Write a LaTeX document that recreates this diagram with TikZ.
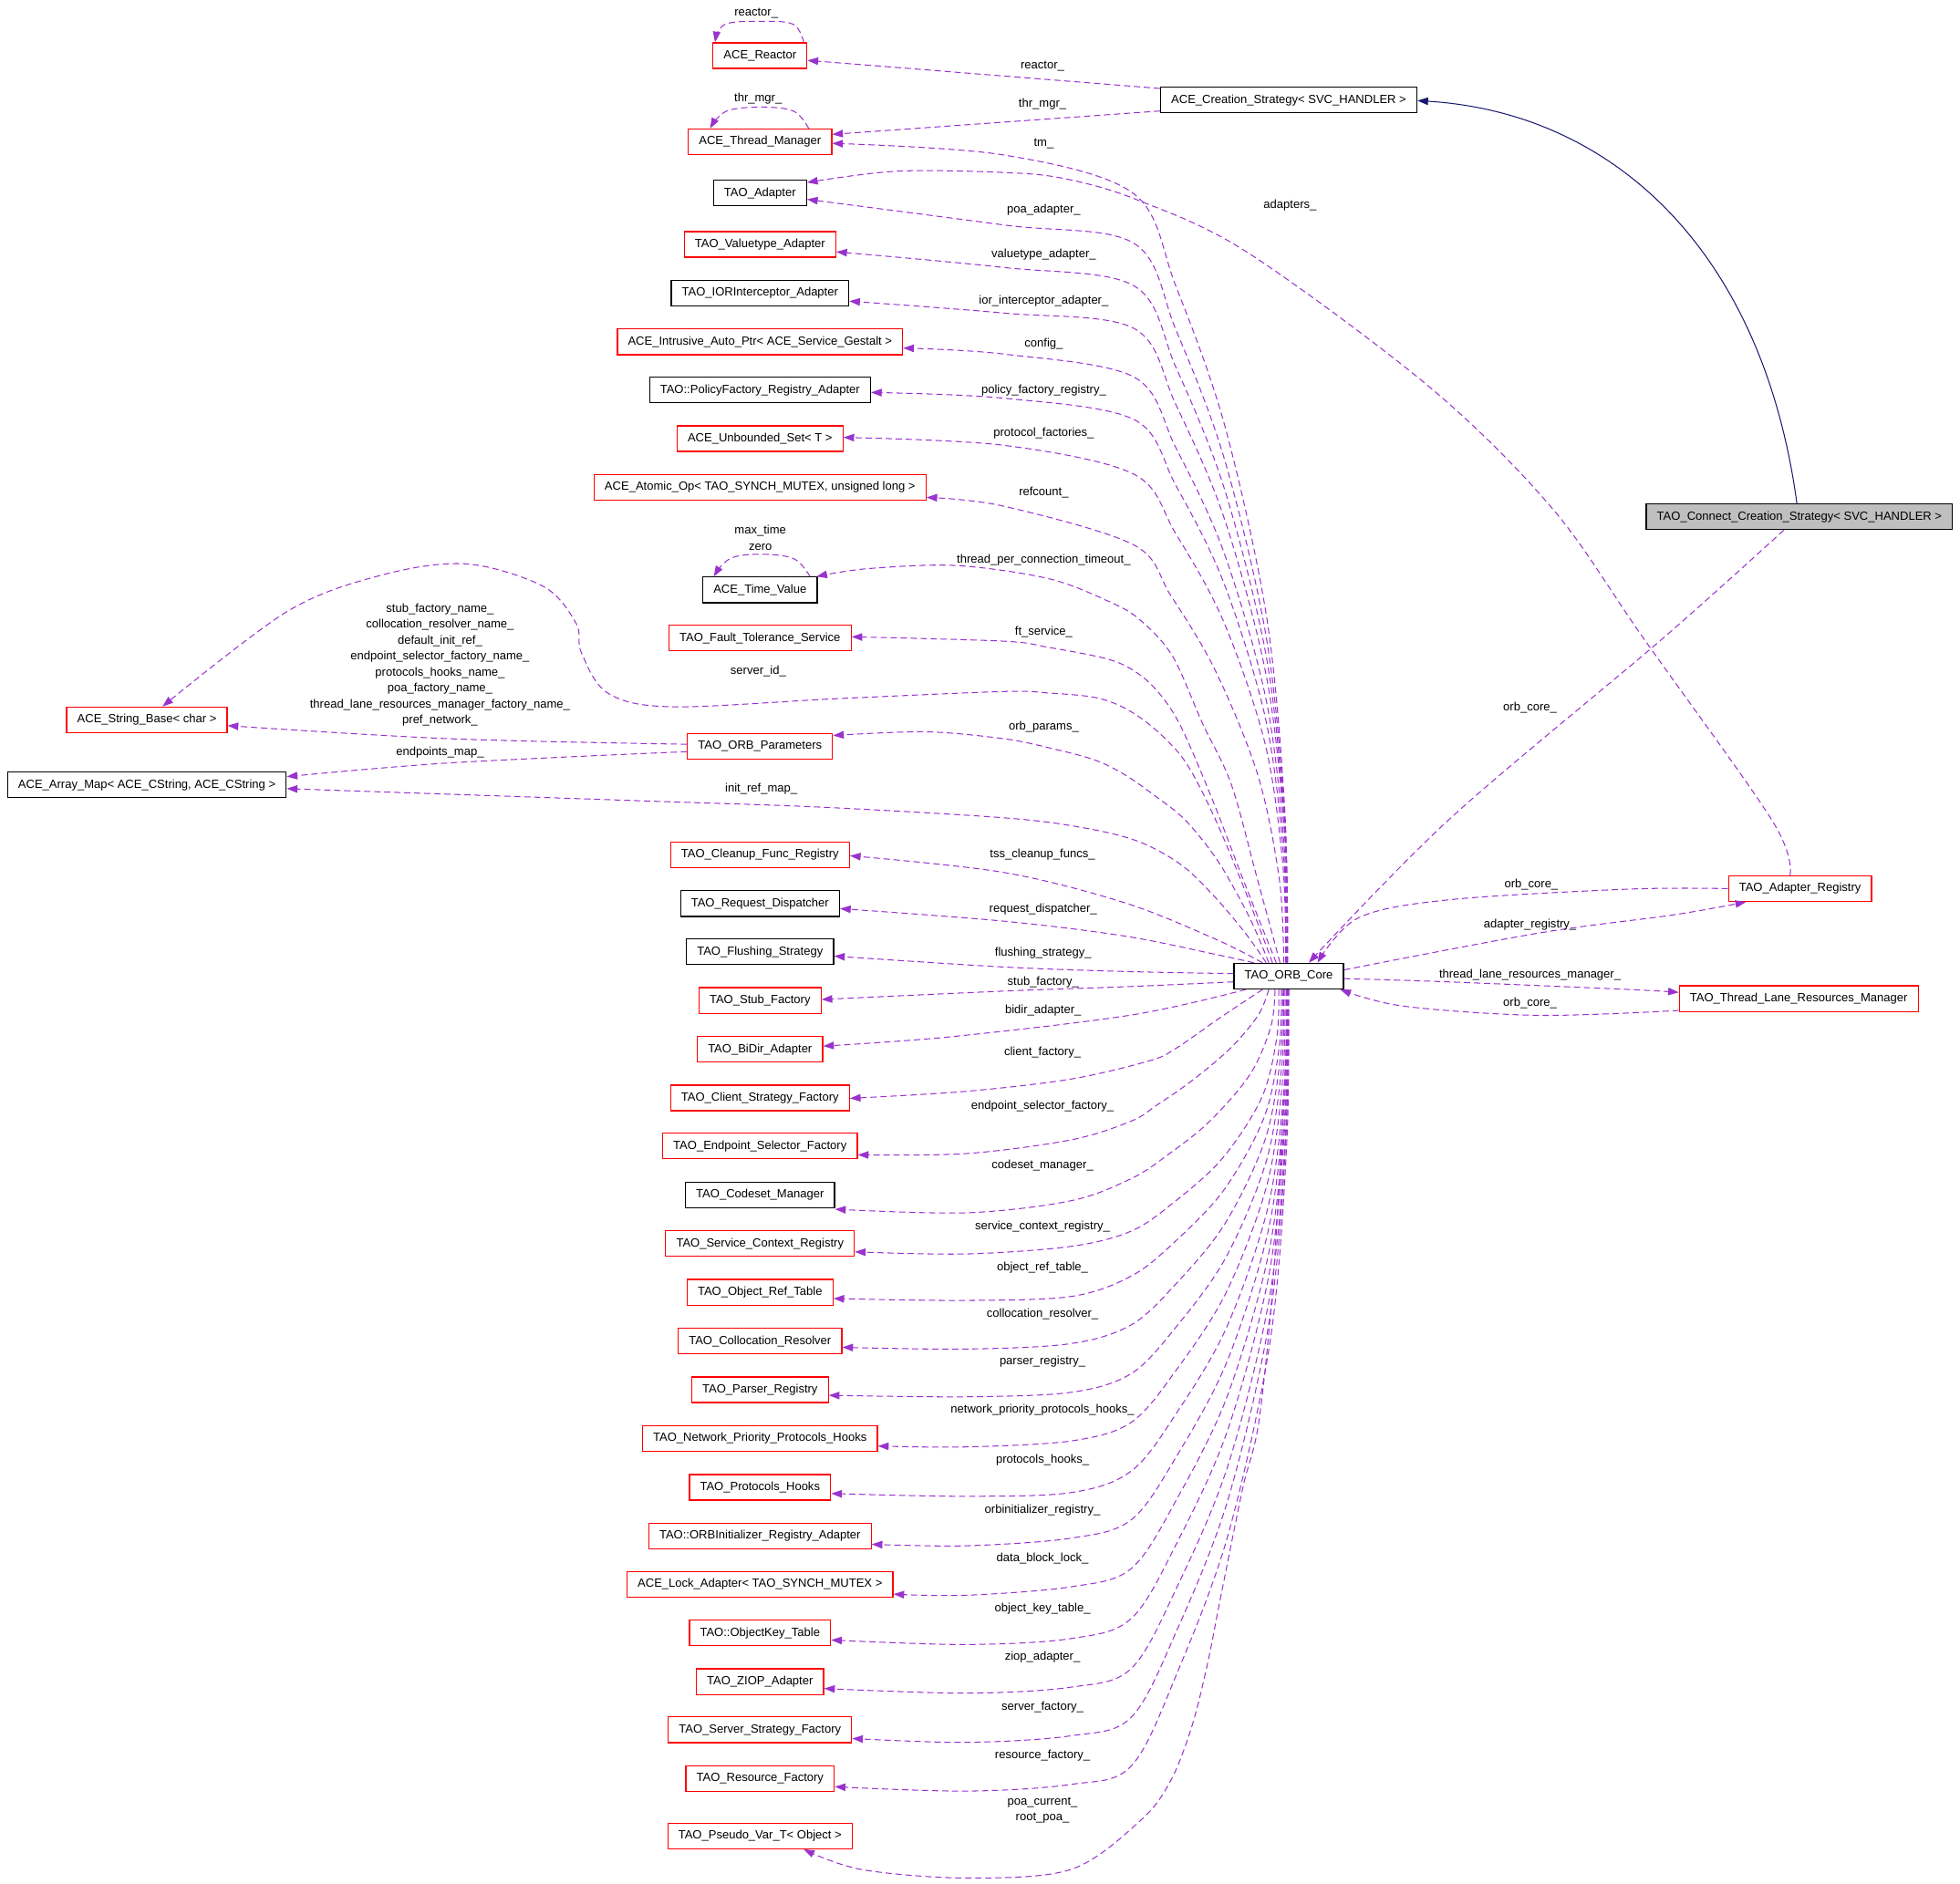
\documentclass[tikz,border=0pt]{standalone}
\usepackage{fontspec}
\setmainfont{Liberation Sans}
\usetikzlibrary{arrows.meta,calc}
\definecolor{edgec}{HTML}{9A32CD}
\definecolor{inhc}{HTML}{191970}
\definecolor{redc}{HTML}{FF0000}
\definecolor{grayfill}{HTML}{BFBFBF}
\newcommand\upedge[6]{% target, Eoff, y803, yk, Sx, p
 \pgfmathsetmacro\uA{#5-907}%
 \pgfmathsetmacro\uD{771-#4}%
 \pgfmathsetmacro\qxa{#5-\uA*(0.2^#6)}\pgfmathsetmacro\qya{771-0.2*\uD}%
 \pgfmathsetmacro\qxb{#5-\uA*(0.45^#6)}\pgfmathsetmacro\qyb{771-0.45*\uD}%
 \pgfmathsetmacro\qxc{#5-\uA*(0.7^#6)}\pgfmathsetmacro\qyc{771-0.7*\uD}%
 \pgfmathsetmacro\qxd{#5-\uA*(0.88^#6)}\pgfmathsetmacro\qyd{771-0.88*\uD}%
 \coordinate (us) at ($(core.north)+(#5-1031,0)$);%
 \coordinate (ue) at ($(#1.east)+(0,#2)$);%
 \draw[dep] plot[smooth,tension=0.55] coordinates {(us) (\qxa,\qya) (\qxb,\qyb) (\qxc,\qyc) (\qxd,\qyd) (907,#4) (803,#3) (ue)};%
}
\newcommand\lowedge[7]{% target, Sx, p, yk, y857, y773, Eoff
 \pgfmathsetmacro\lA{#2-905}%
 \pgfmathsetmacro\lD{#4-791}%
 \pgfmathsetmacro\qxa{#2-\lA*(0.2^#3)}\pgfmathsetmacro\qya{791+0.2*\lD}%
 \pgfmathsetmacro\qxb{#2-\lA*(0.45^#3)}\pgfmathsetmacro\qyb{791+0.45*\lD}%
 \pgfmathsetmacro\qxc{#2-\lA*(0.7^#3)}\pgfmathsetmacro\qyc{791+0.7*\lD}%
 \pgfmathsetmacro\qxd{#2-\lA*(0.88^#3)}\pgfmathsetmacro\qyd{791+0.88*\lD}%
 \coordinate (ls) at ($(core.south)+(#2-1031,0)$);%
 \coordinate (le) at ($(#1.east)+(0,#7)$);%
 \draw[dep] plot[smooth,tension=0.55] coordinates {(ls) (\qxa,\qya) (\qxb,\qyb) (\qxc,\qyc) (\qxd,\qyd) (905,#4) (857,#5) (773,#6) (le)};%
}
\begin{document}
\begin{tikzpicture}[x=1pt,y=-1pt,
 every node/.style={font=\fontsize{9.5}{12.7}\selectfont},
 box/.style={draw=black,fill=white,line width=0.9pt,minimum height=20.5pt,inner xsep=8.5pt,inner ysep=0pt,text height=7pt,text depth=2pt},
 rbox/.style={box,draw=redc},
 gbox/.style={box,fill=grayfill},
 dep/.style={draw=edgec,line width=0.75pt,dash pattern=on 5pt off 3pt,-{Triangle[length=8.5pt,width=6pt]}},
 inh/.style={draw=inhc,line width=0.75pt,-{Triangle[length=8.5pt,width=6pt]}},
 lbl/.style={inner sep=0pt,text height=6.8pt,text depth=0pt},
 mlbl/.style={inner sep=0pt,align=center},
]
\useasboundingbox[fill=white] (0,0) rectangle (1568,1507);
% nodes
\node[rbox] (reactor) at (608,44.5) {ACE\_Reactor};
\node[rbox] (thrmgr) at (608,113.5) {ACE\_Thread\_Manager};
\node[box] (adapter) at (608,154.5) {TAO\_Adapter};
\node[rbox] (valuetype) at (608,195.5) {TAO\_Valuetype\_Adapter};
\node[box] (ior) at (608,234.5) {TAO\_IORInterceptor\_Adapter};
\node[rbox] (intrusive) at (608,273.5) {ACE\_Intrusive\_Auto\_Ptr< ACE\_Service\_Gestalt >};
\node[box] (policy) at (608,312) {TAO::PolicyFactory\_Registry\_Adapter};
\node[rbox] (unbounded) at (608,351) {ACE\_Unbounded\_Set< T >};
\node[rbox] (atomic) at (608,390) {ACE\_Atomic\_Op< TAO\_SYNCH\_MUTEX, unsigned long >};
\node[box] (timevalue) at (608,472) {ACE\_Time\_Value};
\node[rbox] (fault) at (608,510.5) {TAO\_Fault\_Tolerance\_Service};
\node[rbox] (strbase) at (117.5,576) {ACE\_String\_Base< char >};
\node[rbox] (params) at (608,597) {TAO\_ORB\_Parameters};
\node[box] (arraymap) at (117.5,628) {ACE\_Array\_Map< ACE\_CString, ACE\_CString >};
\node[rbox] (cleanup) at (608,684) {TAO\_Cleanup\_Func\_Registry};
\node[box] (request) at (608,723) {TAO\_Request\_Dispatcher};
\node[box] (flushing) at (608,761.5) {TAO\_Flushing\_Strategy};
\node[rbox] (stub) at (608,800.5) {TAO\_Stub\_Factory};
\node[rbox] (bidir) at (608,839.5) {TAO\_BiDir\_Adapter};
\node[rbox] (client) at (608,878.5) {TAO\_Client\_Strategy\_Factory};
\node[rbox] (endpoint) at (608,917) {TAO\_Endpoint\_Selector\_Factory};
\node[box] (codeset) at (608,956) {TAO\_Codeset\_Manager};
\node[rbox] (service) at (608,995) {TAO\_Service\_Context\_Registry};
\node[rbox] (objref) at (608,1034) {TAO\_Object\_Ref\_Table};
\node[rbox] (colloc) at (608,1073) {TAO\_Collocation\_Resolver};
\node[rbox] (parser) at (608,1112) {TAO\_Parser\_Registry};
\node[rbox] (network) at (608,1151) {TAO\_Network\_Priority\_Protocols\_Hooks};
\node[rbox] (protocols) at (608,1190) {TAO\_Protocols\_Hooks};
\node[rbox] (orbinit) at (608,1229) {TAO::ORBInitializer\_Registry\_Adapter};
\node[rbox] (lock) at (608,1267.5) {ACE\_Lock\_Adapter< TAO\_SYNCH\_MUTEX >};
\node[rbox] (objkey) at (608,1306.5) {TAO::ObjectKey\_Table};
\node[rbox] (ziop) at (608,1345.5) {TAO\_ZIOP\_Adapter};
\node[rbox] (server) at (608,1384) {TAO\_Server\_Strategy\_Factory};
\node[rbox] (resource) at (608,1423) {TAO\_Resource\_Factory};
\node[rbox] (pseudo) at (608,1469) {TAO\_Pseudo\_Var\_T< Object >};
\node[box] (core) at (1031,781) {TAO\_ORB\_Core};
\node[box] (creation) at (1031,80) {ACE\_Creation\_Strategy< SVC\_HANDLER >};
\node[gbox] (connect) at (1439.5,413.5) {TAO\_Connect\_Creation\_Strategy< SVC\_HANDLER >};
\node[rbox] (adreg) at (1440,711) {TAO\_Adapter\_Registry};
\node[rbox] (lane) at (1439,799) {TAO\_Thread\_Lane\_Resources\_Manager};
% inheritance
\draw[inh] ($(connect.north)+(-2,0)$) .. controls (1410,200) and (1290,90) .. ($(creation.east)+(0,0.5)$);
% creation strategy members
\draw[dep] ($(creation.north west)+(0,1.5)$) -- ($(reactor.east)+(0,3.8)$);
\draw[dep] ($(creation.south west)+(0,-1.9)$) -- ($(thrmgr.east)+(0,-6)$);
% self loops
\draw[dep] plot[smooth,tension=0.6] coordinates {($(reactor.north east)+(-3,0)$) (634.7,19.5) (609,17) (580,19.5) ($(reactor.north west)+(2,0)$)};
\draw[dep] plot[smooth,tension=0.6] coordinates {($(thrmgr.north)+(39,0)$) (635,89) (609,85.7) (581,89) ($(thrmgr.north)+(-40,0)$)};
\draw[dep] plot[smooth,tension=0.6] coordinates {($(timevalue.north)+(40,0)$) (635,447) (608,443.5) (584,447) ($(timevalue.north)+(-37,0)$)};
% upper bundle
\upedge{thrmgr}{1.2}{124}{155}{1030}{2.5}
\upedge{adapter}{5}{180}{194.6}{1030}{2.5}
\upedge{valuetype}{6}{214}{228.6}{1030}{2.5}
\upedge{ior}{6.5}{250.5}{262.7}{1030}{2.5}
\upedge{intrusive}{5}{283.3}{301.6}{1029.5}{2.5}
\upedge{policy}{2}{318.6}{335.6}{1029}{2.5}
\upedge{unbounded}{-1}{356.3}{379.4}{1028.5}{2.5}
\upedge{atomic}{8}{405}{436}{1027}{2.2}
\draw[dep] plot[smooth,tension=0.55] coordinates {($(core.north)+(-7,0)$) (1005,700) (985,627.5) (962,578.8) (938,525) (912,496) (887.8,481.6) (839,463) (765,452.5) (694,455) ($(timevalue.north east)+(-1,0)$)};
\draw[dep] plot[smooth,tension=0.55] coordinates {($(core.north)+(-10,0)$) (995,705) (970,640) (946,584) (930,558) (912,540) (887.8,527.8) (839,518) (802.6,513) ($(fault.east)+(0,-1)$)};
\draw[dep] plot[smooth,tension=0.55] coordinates {($(core.north)+(-13,0)$) (997,715) (972,655) (948.6,610) (924.3,583.7) (900,566.7) (875.6,558) (839,554.5) (802.6,553.3) (670,559) (537.5,565.5) (486.3,554.6) (465,522) (461,499) (435,469.4) (373.6,451.2) (307,459.7) (230.3,488.9) ($(strbase.north)+(12.5,0)$)};
\draw[dep] plot[smooth,tension=0.55] coordinates {($(core.north)+(-16,0)$) (1000,735) (975,690) (948.6,656.6) (924.3,637) (900,620) (875.6,608) (839,598.3) (802.6,591) (740,585.5) ($(params.east)+(0,-8.5)$)};
\draw[dep] plot[smooth,tension=0.55] coordinates {($(core.north)+(-18,0)$) (997.3,748) (973,718.9) (945,692) (910,673) (865,662) (802.6,654.3) (656.7,645.8) (520,641) ($(arraymap.east)+(0,3)$)};
\draw[dep] plot[smooth,tension=0.55] coordinates {($(core.north)+(-21,0)$) (972.8,751.6) (900,722.4) (802.6,698) ($(cleanup.east)+(0,0.7)$)};
\draw[dep] plot[smooth,tension=0.55] coordinates {($(core.north)+(-28,0)$) (972.8,763.7) (900,749) (802.6,737) ($(request.east)+(0,4)$)};
\draw[dep] plot[smooth,tension=0.55] coordinates {($(core.west)+(0,-2)$) (900,777.3) (802.6,773.7) ($(flushing.east)+(0,3.5)$)};
\draw[dep] plot[smooth,tension=0.55] coordinates {($(core.west)+(0,4.6)$) (900,789.5) (802.6,793) ($(stub.east)+(0,-0.8)$)};
\draw[dep] plot[smooth,tension=0.55] coordinates {($(core.south west)+(10,0)$) (906,812) (762,829.4) ($(bidir.east)+(0,-2.5)$)};
\draw[dep] plot[smooth,tension=0.55] coordinates {($(core.south)+(-21,0)$) (975,815) (940.5,839) (919.4,848.8) (856.6,863.4) (772.8,873.2) ($(client.east)+(0,0.3)$)};
% lower bundle
\lowedge{endpoint}{1015}{1.6}{897}{912}{923}{7}
\lowedge{codeset}{1020}{2.2}{943}{960.7}{970.4}{11.5}
\lowedge{service}{1023}{2.7}{985}{997.2}{1003.3}{6.6}
\lowedge{objref}{1025}{2.7}{1021}{1037.3}{1040.5}{5}
\lowedge{colloc}{1026}{2.7}{1060}{1075}{1079.4}{5}
\lowedge{parser}{1027}{2.7}{1099}{1114}{1117.6}{4.4}
\lowedge{network}{1028}{2.7}{1138}{1152.9}{1157.7}{6}
\lowedge{protocols}{1029}{2.7}{1177}{1194.2}{1197.2}{5}
\lowedge{orbinit}{1029.5}{2.7}{1216}{1230.7}{1236.8}{6.6}
\lowedge{lock}{1030}{2.7}{1255}{1269.6}{1276.4}{8}
\lowedge{objkey}{1030}{2.7}{1295}{1311}{1315.8}{5.7}
\lowedge{ziop}{1030.5}{2.7}{1335}{1349.9}{1354.7}{5.5}
\lowedge{server}{1030.5}{2.7}{1374}{1388.8}{1394.1}{7}
\lowedge{resource}{1031}{2.7}{1413}{1427.7}{1433.1}{6.6}
\draw[dep] plot[smooth,tension=0.55] coordinates {($(core.south)+(0,0)$) (1027,880) (1018,1031) (1007,1138) (995,1187) (985,1235.5) (975.3,1284) (965.6,1333) (953.4,1381.5) (936.4,1425) (912,1457) (856.6,1495.8) (772.8,1502.6) (689,1495.8) ($(pseudo.south)+(35,0)$)};
% parameters
\draw[dep] plot[smooth,tension=0.55] coordinates {($(params.west)+(0,-1.5)$) (358,591) ($(strbase.east)+(0,4.6)$)};
\draw[dep] plot[smooth,tension=0.55] coordinates {($(params.west)+(0,4.4)$) (358.3,610.5) ($(arraymap.east)+(0,-6.6)$)};
% right side
\draw[dep] plot[smooth,tension=0.55] coordinates {($(connect.south)+(-12.5,0)$) (1330,511) (1160,655) ($(core.north)+(16,0)$)};
\draw[dep] plot[smooth,tension=0.55] coordinates {($(adreg.north)+(-8,0)$) (1418,657) (1315,511) (1242,407) (1144,310) (998,202) (910,160) (852,143) (803,138) (717,137) ($(adapter.east)+(0,-8.5)$)};
\draw[dep] plot[smooth,tension=0.55] coordinates {(adreg.west) (1302.7,711.4) (1158.5,720) (1086.5,734.5) ($(core.north)+(23,0)$)};
\draw[dep] plot[smooth,tension=0.55] coordinates {($(core.east)+(0,-5)$) (1230.7,746.6) (1338.8,732) ($(adreg.south west)+(14.5,0)$)};
\draw[dep] plot[smooth,tension=0.55] coordinates {($(core.east)+(0,2)$) (1158.5,785.6) (1302.7,791.7) ($(lane.west)+(0,-5)$)};
\draw[dep] plot[smooth,tension=0.55] coordinates {($(lane.west)+(0,9.5)$) (1230.7,812.4) (1122.6,805) ($(core.south east)+(-3,0)$)};
% labels
\node[lbl] (l1) at (605,9.1) {reactor\_};
\node[lbl] (l2) at (606.5,78) {thr\_mgr\_};
\node[lbl] (l3) at (834,51.5) {reactor\_};
\node[lbl] (l4) at (834,82.4) {thr\_mgr\_};
\node[lbl] (l5) at (835,113.7) {tm\_};
\node[lbl] (l6) at (1032,163) {adapters\_};
\node[lbl] (l7) at (835,167) {poa\_adapter\_};
\node[lbl] (l8) at (835,203) {valuetype\_adapter\_};
\node[lbl] (l9) at (835,240) {ior\_interceptor\_adapter\_};
\node[lbl] (l10) at (835,274.4) {config\_};
\node[lbl] (l11) at (835,311.3) {policy\_factory\_registry\_};
\node[lbl] (l12) at (835,346) {protocol\_factories\_};
\node[lbl] (l13) at (835,393.5) {refcount\_};
\node[lbl] (l14) at (608.3,423.7) {max\_time};
\node[lbl] (l15) at (608.3,437) {zero};
\node[lbl] (l16) at (835,447) {thread\_per\_connection\_timeout\_};
\node[lbl] (l17) at (835,505) {ft\_service\_};
\node[lbl] (l18) at (606.6,536.3) {server\_id\_};
\node[mlbl] (l19) at (352,532) {stub\_factory\_name\_\\collocation\_resolver\_name\_\\default\_init\_ref\_\\endpoint\_selector\_factory\_name\_\\protocols\_hooks\_name\_\\poa\_factory\_name\_\\thread\_lane\_resources\_manager\_factory\_name\_\\pref\_network\_};
\node[lbl] (l20) at (835,580.6) {orb\_params\_};
\node[lbl] (l21) at (352,601) {endpoints\_map\_};
\node[lbl] (l22) at (609,630.5) {init\_ref\_map\_};
\node[lbl] (l23) at (834,682.7) {tss\_cleanup\_funcs\_};
\node[lbl] (l24) at (834.5,726.5) {request\_dispatcher\_};
\node[lbl] (l25) at (834.5,761.3) {flushing\_strategy\_};
\node[lbl] (l26) at (834.5,784.9) {stub\_factory\_};
\node[lbl] (l27) at (834.5,807.5) {bidir\_adapter\_};
\node[lbl] (l28) at (834,841.5) {client\_factory\_};
\node[lbl] (l29) at (834,884.4) {endpoint\_selector\_factory\_};
\node[lbl] (l30) at (834,931.8) {codeset\_manager\_};
\node[lbl] (l31) at (834,980.4) {service\_context\_registry\_};
\node[lbl] (l32) at (834,1013.3) {object\_ref\_table\_};
\node[lbl] (l33) at (834,1050.5) {collocation\_resolver\_};
\node[lbl] (l34) at (834,1088.6) {parser\_registry\_};
\node[lbl] (l35) at (834,1127.4) {network\_priority\_protocols\_hooks\_};
\node[lbl] (l36) at (834,1167.5) {protocols\_hooks\_};
\node[lbl] (l37) at (834,1207.6) {orbinitializer\_registry\_};
\node[lbl] (l38) at (834,1246.2) {data\_block\_lock\_};
\node[lbl] (l39) at (834,1286.4) {object\_key\_table\_};
\node[lbl] (l40) at (834,1324.8) {ziop\_adapter\_};
\node[lbl] (l41) at (834,1365) {server\_factory\_};
\node[lbl] (l42) at (834,1403.9) {resource\_factory\_};
\node[mlbl] (l43) at (834,1448.5) {poa\_current\_\\root\_poa\_};
\node[lbl] (l44) at (1224,565) {orb\_core\_};
\node[lbl] (l45) at (1225,706.6) {orb\_core\_};
\node[lbl] (l46) at (1224,739) {adapter\_registry\_};
\node[lbl] (l47) at (1224,779) {thread\_lane\_resources\_manager\_};
\node[lbl] (l48) at (1224,802) {orb\_core\_};
\end{tikzpicture}
\end{document}
